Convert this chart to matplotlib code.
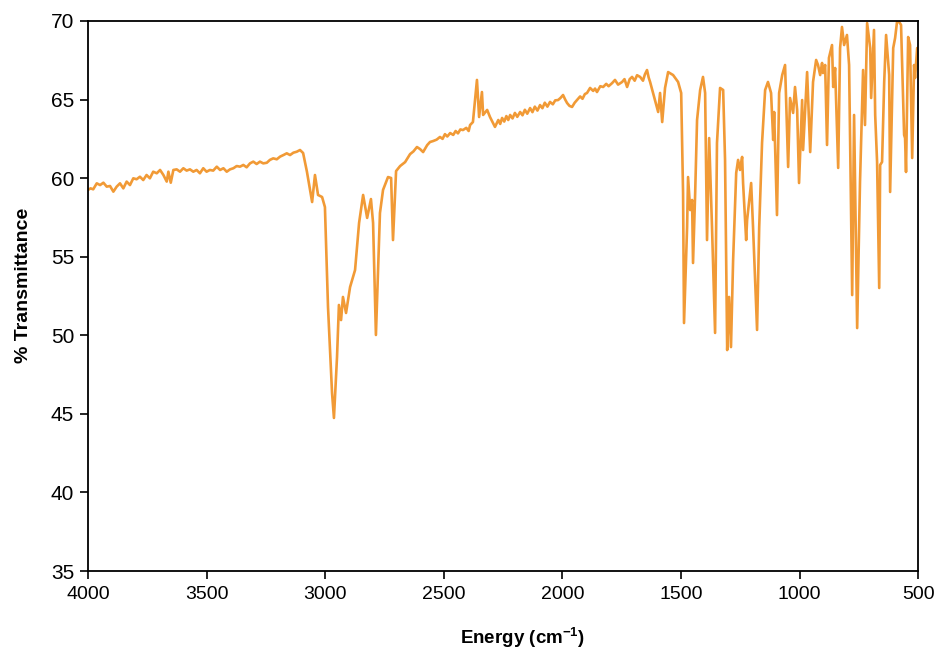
import matplotlib
matplotlib.use("Agg")
import matplotlib.pyplot as plt

# IR spectrum, values
wavenumber = [
    4000, 3989, 3978, 3963, 3949, 3935, 3921, 3907, 3893, 3879,
    3865, 3851, 3837, 3823, 3809, 3795, 3781, 3767, 3753, 3739,
    3725, 3710, 3696, 3682, 3668, 3661, 3651, 3640, 3626, 3612,
    3598, 3584, 3570, 3556, 3542, 3528, 3514, 3500, 3486, 3472,
    3457, 3443, 3429, 3415, 3401, 3387, 3373, 3359, 3345, 3331,
    3317, 3303, 3289, 3275, 3261, 3246, 3233, 3219, 3204, 3190,
    3176, 3162, 3148, 3134, 3120, 3106, 3093, 3077, 3055, 3043,
    3030, 3013, 3001, 2988, 2971, 2963, 2950, 2942, 2933, 2925,
    2912, 2895, 2874, 2857, 2840, 2823, 2807, 2798, 2786, 2769,
    2756, 2735, 2722, 2714, 2701, 2684, 2663, 2642, 2628, 2613,
    2600, 2587, 2570, 2558, 2545, 2530, 2516, 2505, 2495, 2485,
    2473, 2460, 2450, 2440, 2430, 2419, 2405, 2395, 2389, 2377,
    2360, 2351, 2339, 2334, 2317, 2305, 2284, 2270, 2262, 2254,
    2245, 2236, 2228, 2220, 2210, 2200, 2190, 2178, 2168, 2158,
    2148, 2136, 2126, 2116, 2105, 2094, 2084, 2074, 2063, 2052,
    2040, 2030, 2018, 2008, 1997, 1988, 1980, 1970, 1959, 1948,
    1938, 1925, 1915, 1905, 1896, 1883, 1870, 1862, 1854, 1840,
    1828, 1815, 1805, 1790, 1778, 1765, 1748, 1738, 1727, 1716,
    1706, 1695, 1685, 1672, 1660, 1652, 1643, 1636, 1630, 1596,
    1588, 1579, 1567, 1554, 1533, 1512, 1499, 1491, 1487, 1474,
    1470, 1461, 1453, 1449, 1440, 1432, 1419, 1407, 1398, 1390,
    1381, 1369, 1356, 1348, 1335, 1322, 1314, 1305, 1297, 1289,
    1280, 1267, 1259, 1251, 1242, 1238, 1225, 1221, 1213, 1204,
    1196, 1179, 1170, 1158, 1145, 1133, 1120, 1111, 1107, 1095,
    1086, 1073, 1061, 1048, 1040, 1027, 1019, 1010, 1002, 989,
    985, 968, 955, 943, 930, 922, 913, 905, 901, 892,
    884, 876, 863, 858, 850, 837, 829, 821, 812, 800,
    791, 778, 770, 757, 745, 732, 724, 715, 702, 698,
    686, 681, 673, 664, 660, 652, 643, 635, 622, 618,
    605, 597, 589, 580, 572, 559, 555, 551, 542, 534,
    525, 517, 513, 504, 500,
]
transmittance = [
    59.25, 59.35, 59.29, 59.67, 59.56, 59.71, 59.46, 59.50, 59.14, 59.46,
    59.67, 59.35, 59.78, 59.56, 59.99, 59.93, 60.09, 59.88, 60.20, 59.99,
    60.41, 60.31, 60.52, 60.20, 59.78, 60.41, 59.71, 60.52, 60.56, 60.41,
    60.63, 60.48, 60.56, 60.41, 60.52, 60.31, 60.63, 60.41, 60.52, 60.48,
    60.73, 60.52, 60.63, 60.41, 60.56, 60.63, 60.77, 60.73, 60.84, 60.69,
    60.94, 61.05, 60.90, 61.05, 60.94, 60.98, 61.16, 61.26, 61.20, 61.37,
    61.47, 61.58, 61.47, 61.62, 61.68, 61.79, 61.60, 60.42, 58.48, 60.20,
    58.93, 58.80, 58.16, 51.80, 46.33, 44.74, 48.62, 51.93, 50.97, 52.44,
    51.42, 53.07, 54.15, 57.15, 58.93, 57.47, 58.67, 57.15, 50.02, 57.78,
    59.25, 60.07, 60.01, 56.06, 60.45, 60.77, 61.02, 61.53, 61.70, 61.98,
    61.85, 61.66, 62.10, 62.30, 62.36, 62.45, 62.62, 62.50, 62.80, 62.65,
    62.87, 62.75, 63.00, 62.85, 63.10, 63.06, 63.20, 63.00, 63.38, 63.57,
    66.25, 63.89, 65.48, 64.02, 64.34, 63.89, 63.26, 63.70, 63.45, 63.83,
    63.60, 63.95, 63.70, 64.02, 63.80, 64.15, 63.90, 64.21, 64.00, 64.35,
    64.10, 64.46, 64.20, 64.55, 64.30, 64.65, 64.45, 64.80, 64.55, 64.85,
    64.70, 64.95, 64.97, 65.10, 65.29, 65.00, 64.78, 64.60, 64.53, 64.80,
    64.97, 65.20, 65.05, 65.35, 65.42, 65.74, 65.55, 65.70, 65.48, 65.85,
    65.80, 66.00, 65.85, 66.05, 66.25, 65.95, 66.12, 66.30, 65.80, 66.30,
    66.44, 66.20, 66.55, 66.44, 66.20, 66.60, 66.88, 66.40, 66.12, 64.21,
    65.42, 63.57, 65.74, 66.75, 66.56, 66.12, 65.42, 59.05, 50.78, 56.89,
    60.07, 57.97, 58.61, 54.60, 59.05, 63.70, 65.61, 66.44, 65.42, 56.06,
    62.55, 56.89, 50.15, 62.24, 65.74, 65.61, 61.16, 49.06, 52.44, 49.25,
    54.79, 60.33, 61.16, 60.52, 61.35, 59.69, 56.06, 57.34, 58.42, 59.69,
    56.89, 50.34, 56.89, 62.24, 65.61, 66.12, 65.42, 62.43, 64.21, 57.65,
    65.42, 66.56, 67.20, 60.71, 65.10, 64.15, 65.80, 64.34, 59.69, 64.97,
    61.79, 66.75, 61.66, 66.12, 67.52, 67.20, 66.56, 67.33, 66.69, 67.20,
    62.11, 67.65, 68.47, 65.80, 67.01, 60.65, 68.28, 69.62, 68.47, 69.11,
    67.20, 52.56, 64.02, 50.46, 59.75, 66.88, 63.38, 69.87, 68.28, 65.10,
    69.43, 64.02, 61.03, 53.01, 60.84, 61.03, 66.12, 69.11, 66.56, 59.12,
    68.28, 68.92, 69.94, 69.94, 69.75, 62.75, 62.55, 60.39, 68.98, 68.47,
    61.28, 67.20, 66.37, 68.28, 68.28,
]
x_ticks = [4000, 3500, 3000, 2500, 2000, 1500, 1000, 500]
y_ticks = [35, 40, 45, 50, 55, 60, 65, 70]

plt.rcParams["font.family"] = ["Liberation Sans", "DejaVu Sans"]
plt.rcParams["mathtext.fontset"] = "custom"
plt.rcParams["mathtext.rm"] = "Liberation Sans"
plt.rcParams["mathtext.bf"] = "Liberation Sans:bold"

fig = plt.figure(figsize=(9.38, 6.5), dpi=100)
ax = fig.add_axes([0.0938, 0.1215, 0.885, 0.8462])

ax.plot(wavenumber, transmittance, color="#F19A36", linewidth=1.9)

ax.set_xlim(4000, 500)
ax.set_ylim(35, 70)
ax.set_xticks(x_ticks)
ax.set_yticks(y_ticks)

for s in ax.spines.values():
    s.set_linewidth(1.3)
    s.set_color("black")

ax.tick_params(axis="y", direction="out", length=6, width=1.2, labelsize=15, pad=4)
ax.tick_params(axis="x", direction="out", length=6, width=1.2, labelsize=14, pad=5)

ax.set_ylabel("% Transmittance", fontsize=14, fontweight="bold")
ax.yaxis.set_label_coords(-0.068, 0.52)
ax.set_xlabel(r"Energy (cm$^{\mathbf{-1}}$)", fontsize=13.5, fontweight="bold")
ax.xaxis.set_label_coords(0.524, -0.098)

fig.savefig("out.png", dpi=100)
